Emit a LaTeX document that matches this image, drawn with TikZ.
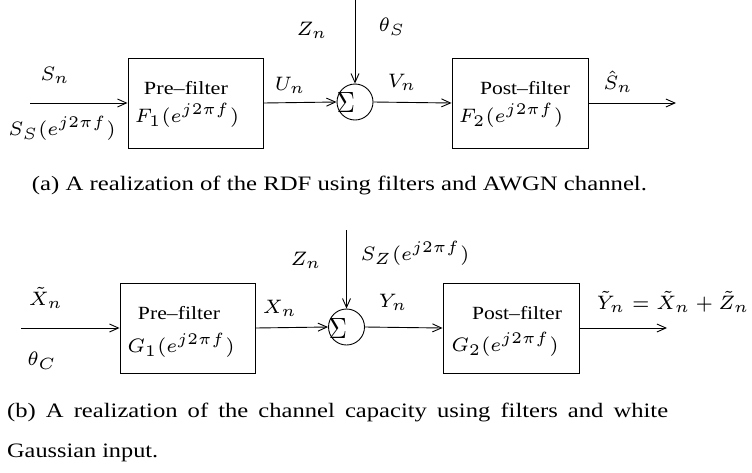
\documentclass[tikz,border=0pt]{standalone}
\usepackage[no-math]{fontspec}
\setmainfont{Liberation Serif}
\usepackage{graphicx}
\usetikzlibrary{arrows.meta}
\newcommand{\mth}[1]{\scalebox{3.12}[3.25]{\fontsize{6}{7}\selectfont$#1$}}
\newcommand{\bigsig}{\scalebox{2.5}[2.93]{\fontsize{10}{12}\selectfont$\Sigma$}}
\begin{document}
\begin{tikzpicture}[x=1pt,y=-1pt,
  box/.style={draw,line width=0.9pt,inner sep=0pt},
  sumc/.style={draw,circle,line width=0.9pt,minimum size=36pt,inner sep=0pt},
  sig/.style={line width=0.9pt,-{Straight Barb[length=9pt,width=8pt,line width=0.9pt]}},
  lbl/.style={inner sep=0pt},
  txt/.style={inner sep=0pt,font=\fontsize{18.6}{22}\selectfont},
  captxt/.style={inner sep=0pt,font=\fontsize{20.5}{24}\selectfont,anchor=base west}]
\useasboundingbox (0,0) rectangle (752,472);
% ---------- top diagram ----------
\coordinate (inA) at (30,103);
\node[box,minimum width=135pt,minimum height=90pt] (preA) at (195.5,103) {};
\node[sumc] (sumA) at (355,102) {};
\node[lbl] (sigA) at (346,102) {\bigsig};
\coordinate (zA) at (355,0);
\node[box,minimum width=136pt,minimum height=90pt] (postA) at (520,103) {};
\coordinate (outA) at (676,103);
\draw[sig] (inA) -- (preA.west);
\draw[sig] (preA.east) -- (sumA.west);
\draw[sig] (zA) -- (sumA.north);
\draw[sig] (sumA.east) -- (postA.west);
\draw[sig] (postA.east) -- (outA);
\node[lbl] (sn) at (55,75) {\mth{S_n}};
\node[lbl] (ss) at (62,128) {\mth{S_S(e^{j2\pi f})}};
\node[txt] (pfA) at (186,88) {\resizebox{84pt}{\height}{Pre--filter}};
\node[lbl] (f1) at (187,115) {\mth{F_1(e^{j2\pi f})}};
\node[lbl] (un) at (290,85) {\mth{U_n}};
\node[lbl] (znA) at (312,30) {\mth{Z_n}};
\node[lbl] (ths) at (392,27) {\mth{\theta_S}};
\node[lbl] (vn) at (402,82) {\mth{V_n}};
\node[txt] (qfA) at (525,88) {\resizebox{90pt}{\height}{Post--filter}};
\node[lbl] (f2) at (511,115) {\mth{F_2(e^{j2\pi f})}};
\node[lbl] (shat) at (618,82) {\mth{\hat{S}_n}};
\node[captxt,anchor=base] (capA) at (339.5,190) {\resizebox{615pt}{\height}{(a) A realization of the RDF using filters and AWGN channel.}};
% ---------- bottom diagram ----------
\coordinate (inB) at (21,328);
\node[box,minimum width=135pt,minimum height=90pt] (preB) at (187.5,328) {};
\node[sumc] (sumB) at (346.5,327) {};
\node[lbl] (sigB) at (338,328) {\bigsig};
\coordinate (zB) at (346.5,230);
\node[box,minimum width=136pt,minimum height=90pt] (postB) at (511,328) {};
\coordinate (outB) at (667,328);
\draw[sig] (inB) -- (preB.west);
\draw[sig] (preB.east) -- (sumB.west);
\draw[sig] (zB) -- (sumB.north);
\draw[sig] (sumB.east) -- (postB.west);
\draw[sig] (postB.east) -- (outB);
\node[lbl] (xt) at (46,298) {\mth{\tilde{X}_n}};
\node[lbl] (thc) at (42,361) {\mth{\theta_C}};
\node[txt] (pfB) at (179,313) {\resizebox{82pt}{\height}{Pre--filter}};
\node[lbl] (g1) at (181,345) {\mth{G_1(e^{j2\pi f})}};
\node[lbl] (xn) at (280,308) {\mth{X_n}};
\node[lbl] (znB) at (306,260) {\mth{Z_n}};
\node[lbl] (sz) at (415,253) {\mth{S_Z(e^{j2\pi f})}};
\node[lbl] (yn) at (393,302) {\mth{Y_n}};
\node[txt] (qfB) at (517,313) {\resizebox{90pt}{\height}{Post--filter}};
\node[lbl] (g2) at (505,344) {\mth{G_2(e^{j2\pi f})}};
\node[lbl] (yt) at (673,302) {\mth{\tilde{Y}_n=\tilde{X}_n+\tilde{Z}_n}};
\node[captxt] (capB1) at (7,417) {\scalebox{1.2}[1]{\makebox[550.8pt][s]{(b) A realization of the channel capacity using filters and white}}};
\node[captxt] (capB2) at (7,457) {\resizebox{151pt}{\height}{Gaussian input.}};
\end{tikzpicture}
\end{document}
